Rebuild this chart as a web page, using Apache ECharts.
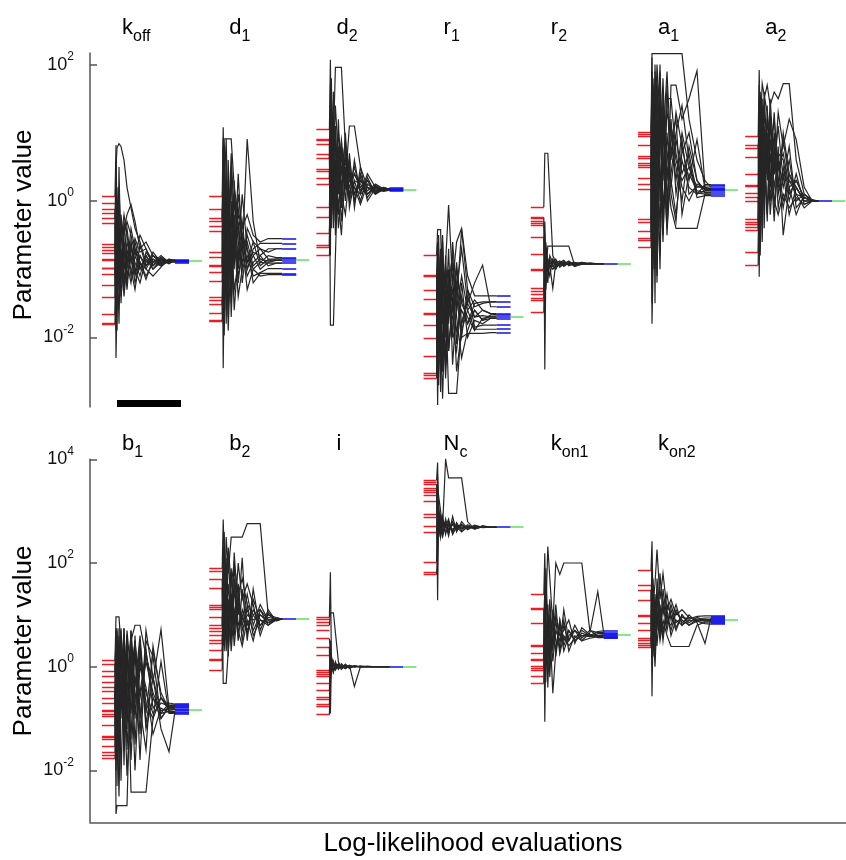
<!DOCTYPE html>
<html><head><meta charset="utf-8">
<script src="https://cdn.jsdelivr.net/npm/echarts@6.0.0/dist/echarts.min.js"></script>
<style>html,body{margin:0;padding:0;background:#fff}#c{width:846px;height:860px}</style>
</head><body><div id="c"></div>
<script>
// All parameter values are stored as log10(value).
// Evaluation positions (offsets from each run's start) at which run values are recorded
const STEP_X = [0,1,2,4,6,9,12,16,20,25,31,38,46,54,60];

const topTicks = [-2, 0, 2];
const bottomTicks = [-2, 0, 2, 4];

// ---- k_off ----
const koffInit = [0.07,-0.03,-0.12,-0.18,-0.25,-0.32,-0.63,-0.68,-0.72,-0.77,-0.86,-0.87,-0.98,-0.99,-1.08,-1.24,-1.41,-1.66,-1.79,-1.80];
const koffRuns = [
 [0.07,0.82,-0.3,0.2,-0.6,-0.2,-0.5,-0.9,-0.7,-1.0,-0.8,-0.95,-0.85,-0.9,-0.88],
 [-0.12,-2.3,-1.5,-0.9,-1.2,-0.6,-1.1,-0.8,-1.2,-0.9,-1.1,-0.9,-0.95,-0.87,-0.88],
 [-0.25,0.5,0.78,0.84,0.8,0.6,0.2,-0.1,-0.4,-0.6,-0.9,-0.8,-0.92,-0.86,-0.87],
 [-0.63,-1.7,-0.4,-1.3,-0.7,-1.4,-0.9,-0.6,-1.0,-1.2,-0.85,-1.0,-0.9,-0.88,-0.89],
 [-0.77,0.3,-0.9,-0.2,-1.5,-0.5,-0.3,-0.5,-0.8,-0.5,-0.7,-0.95,-0.82,-0.9,-0.88],
 [-0.98,-1.9,-0.5,-1.0,-0.3,-1.2,-0.7,-1.1,-0.6,-0.9,-1.15,-0.85,-0.95,-0.88,-0.88],
 [-1.24,-0.2,-1.6,-0.6,-1.1,-0.4,-0.2,-0.05,-0.3,-0.7,-0.6,-0.8,-0.87,-0.92,-0.87],
 [-1.41,-0.7,-1.2,0.1,-0.8,-1.3,-0.8,-1.0,-1.3,-0.8,-1.0,-1.1,-0.97,-0.85,-0.88],
 [-1.66,-1.0,-0.1,-0.7,-1.4,-0.9,-1.2,-0.7,-0.9,-1.1,-0.75,-0.9,-0.8,-0.9,-0.86],
 [-1.80,-0.5,-1.3,-0.8,-0.4,-1.0,-0.6,-0.85,-1.05,-0.65,-0.95,-0.75,-0.9,-0.87,-0.9],
 [-0.68,0.4,-1.0,-0.3,-0.9,-0.6,-1.0,-0.4,-0.7,-0.9,-1.0,-0.8,-0.9,-0.86,-0.87],
 [-0.87,-1.4,0.2,-1.1,-0.5,-0.8,-0.4,-0.9,-0.55,-0.75,-0.7,-0.9,-0.84,-0.89,-0.88],
 [-1.08,0.6,-0.6,-1.8,-0.2,-0.7,-1.3,-0.6,-1.1,-0.8,-0.95,-0.85,-0.93,-0.88,-0.89],
 [-0.32,-0.9,-1.9,0.5,-1.0,-0.3,-0.9,-1.2,-0.8,-1.0,-0.8,-1.0,-0.86,-0.9,-0.88]
];
const koffFinal = [-0.86,-0.87,-0.88,-0.89,-0.90];
const koffTrue = -0.88;

// ---- d_1 ----
const d1Init = [0.07,-0.12,-0.25,-0.30,-0.37,-0.44,-0.75,-0.83,-0.94,-0.95,-1.04,-1.18,-1.41,-1.45,-1.52,-1.64,-1.75,-1.76];
const d1Runs = [
 [0.07,1.08,0.2,0.91,-0.5,0.3,-0.8,0.1,-0.4,-0.2,-0.5,-0.6,-0.55,-0.55,-0.55],
 [-0.12,-2.45,-1.2,-0.3,-1.9,-0.6,-1.3,-0.9,-0.5,-1.0,-0.7,-0.62,-0.62,-0.62,-0.62],
 [-0.30,0.91,0.91,0.91,0.91,0.91,0.2,-0.2,-0.6,-0.9,-0.75,-0.8,-0.7,-0.7,-0.70],
 [-0.44,-1.4,0.4,-0.8,0.0,-1.5,-0.4,-1.1,-0.8,0.91,-0.3,-0.9,-0.8,-0.83,-0.83],
 [-0.75,0.6,-1.97,-0.4,-1.0,0.5,-0.9,-0.3,-1.2,-0.6,-0.95,-0.85,-0.88,-0.85,-0.85],
 [-0.94,-0.2,0.7,-1.6,0.3,-0.7,0.0,-0.6,-0.9,-0.5,-0.8,-1.0,-0.9,-0.87,-0.87],
 [-1.18,0.3,-1.0,0.6,-1.3,-0.2,-1.0,0.4,-0.7,-1.1,-0.9,-0.8,-0.95,-0.91,-0.91],
 [-1.45,-1.8,-0.6,-1.2,0.2,-1.7,-0.5,-1.4,-1.0,-0.8,-1.1,-1.05,-0.99,-0.99,-0.99],
 [-1.64,0.1,-1.4,0.0,-0.9,-0.4,-1.6,-0.8,0.1,-0.7,-1.2,-1.06,-1.06,-1.06,-1.06],
 [-1.76,-0.9,0.5,-1.8,-0.5,0.7,-0.3,-1.2,-0.6,-1.3,-1.0,-1.1,-1.08,-1.08,-1.08],
 [-0.25,0.8,-1.5,0.3,-0.7,-1.2,0.1,-0.4,-1.0,-0.4,-0.6,-0.7,-0.75,-0.7,-0.70],
 [-0.83,-1.2,0.9,-0.3,-1.7,0.0,-0.8,-0.1,-0.5,-0.9,-0.6,-0.95,-0.86,-0.87,-0.87],
 [-1.04,0.4,-0.4,-1.4,0.6,-1.0,-0.2,-0.9,-0.3,-1.0,-0.8,-0.7,-0.85,-0.85,-0.85],
 [-1.52,-0.5,0.2,-1.1,-0.2,-1.4,0.3,-1.0,-0.5,-0.7,-1.0,-0.9,-0.91,-0.91,-0.91]
];
const d1Final = [-0.55,-0.62,-0.70,-0.83,-0.85,-0.87,-0.91,-0.99,-1.06,-1.08];
const d1True = -0.86;

// ---- d_2 ----
const d2Init = [1.05,0.91,0.89,0.83,0.68,0.63,0.46,0.44,0.33,0.25,-0.09,-0.24,-0.47,-0.65,-0.68,-0.80];
const d2Runs = [
 [1.05,2.07,0.5,1.2,0.3,0.8,0.2,0.6,0.1,0.4,0.2,0.3,0.12,0.2,0.17],
 [0.91,-1.82,-1.82,-1.82,-1.82,0.7,0.4,0.9,0.3,0.1,0.35,0.05,0.22,0.15,0.16],
 [0.83,0.3,1.5,0.9,1.96,1.96,1.96,0.8,0.4,0.0,0.3,0.15,0.25,0.18,0.18],
 [0.63,1.4,0.0,0.7,-0.3,0.5,0.9,0.3,1.1,1.1,0.5,0.2,0.1,0.17,0.17],
 [0.44,-0.5,0.8,-0.2,0.6,-0.4,0.1,-0.2,0.4,0.2,-0.05,0.25,0.15,0.19,0.18],
 [0.25,1.0,-0.3,1.3,0.2,0.0,-0.5,0.5,0.0,0.6,0.1,0.4,0.2,0.16,0.17],
 [-0.09,0.6,1.1,0.2,0.9,0.3,0.7,0.0,0.7,-0.1,0.5,0.0,0.18,0.14,0.16],
 [-0.47,0.2,-0.4,0.4,0.0,1.2,0.0,1.0,-0.1,0.3,0.0,0.35,0.1,0.2,0.17],
 [-0.68,1.7,0.6,-0.1,1.0,-0.2,0.5,0.2,0.5,0.0,0.4,0.1,0.23,0.17,0.17],
 [-0.80,-0.3,0.2,0.9,-0.5,0.4,-0.3,0.4,0.2,0.5,0.15,0.3,0.13,0.16,0.18],
 [0.68,-0.8,1.3,0.1,0.8,0.5,-0.1,0.7,0.3,0.4,0.2,0.1,0.2,0.17,0.17],
 [0.33,1.2,0.4,1.6,-0.2,1.0,0.6,0.2,0.6,0.1,0.3,0.2,0.15,0.18,0.16],
 [-0.24,0.5,1.8,-0.4,1.1,0.1,0.8,0.3,0.0,0.3,0.25,0.1,0.2,0.16,0.17],
 [-0.65,0.9,-0.2,0.6,1.4,0.6,0.2,0.7,0.4,0.2,0.1,0.2,0.16,0.18,0.18]
];
const d2Final = [0.15,0.16,0.17,0.18,0.19];
const d2True = 0.17;

// ---- r_1 ----
const r1Init = [-0.80,-1.09,-1.11,-1.31,-1.44,-1.64,-1.66,-1.82,-2.01,-2.28,-2.53,-2.56,-2.60];
const r1Runs = [
 [-0.80,-0.42,-0.42,-0.42,-1.5,-0.9,-0.06,-1.2,-0.6,-0.4,-1.1,-1.39,-1.39,-1.39,-1.39],
 [-1.09,-2.99,-2.0,-1.3,-2.5,-1.6,-2.2,-1.4,-1.9,-1.6,-1.8,-1.5,-1.48,-1.48,-1.48],
 [-1.11,-0.6,-1.6,-0.9,-0.5,-2.0,-1.0,-1.6,-1.3,-0.7,-1.5,-1.2,-0.94,-1.55,-1.55],
 [-1.31,-2.2,-0.8,-2.6,-1.2,-1.4,-2.82,-2.82,-2.82,-1.8,-1.4,-1.7,-1.6,-1.65,-1.65],
 [-1.44,-1.0,-2.4,-0.7,-1.8,-1.1,-1.5,-0.9,-1.7,-2.3,-1.9,-1.6,-1.75,-1.67,-1.67],
 [-1.64,-2.6,-1.2,-1.9,-0.6,-2.4,-1.3,-2.0,-1.0,-1.5,-1.7,-1.9,-1.72,-1.70,-1.70],
 [-1.82,-0.9,-1.9,-1.5,-2.2,-0.8,-1.8,-1.1,-2.1,-1.2,-2.0,-1.75,-1.8,-1.72,-1.72],
 [-2.01,-1.4,-0.5,-2.1,-1.0,-1.7,-0.7,-2.4,-1.5,-0.42,-1.3,-1.85,-1.82,-1.82,-1.82],
 [-2.28,-1.8,-2.7,-1.1,-1.6,-2.6,-1.6,-1.3,-2.5,-1.9,-1.6,-1.88,-1.88,-1.88,-1.88],
 [-2.60,-2.3,-1.4,-2.0,-2.9,-1.3,-2.1,-1.7,-1.2,-2.0,-1.94,-1.94,-1.94,-1.93,-1.93],
 [-1.31,-0.7,-2.5,-1.4,-0.9,-1.9,-1.2,-0.8,-1.6,-1.1,-1.6,-1.45,-1.6,-1.65,-1.67],
 [-1.66,-2.1,-0.7,-1.7,-2.5,-1.0,-2.2,-1.5,-0.9,-1.8,-1.5,-1.7,-1.68,-1.70,-1.70],
 [-2.53,-1.2,-2.2,-0.8,-1.5,-2.3,-1.1,-1.9,-2.2,-1.4,-1.8,-1.6,-1.75,-1.72,-1.72],
 [-2.56,-1.6,-1.0,-2.8,-1.3,-1.0,-1.7,-0.6,-1.4,-2.0,-1.3,-1.55,-1.5,-1.48,-1.48]
];
const r1Final = [-1.39,-1.48,-1.55,-1.65,-1.67,-1.70,-1.72,-1.82,-1.88,-1.93];
const r1True = -1.70;

// ---- r_2 ----
const r2Init = [-0.09,-0.24,-0.26,-0.30,-0.33,-0.36,-0.53,-0.78,-1.00,-1.02,-1.28,-1.33,-1.36,-1.43,-1.46,-1.63];
const r2Runs = [
 [-0.09,0.70,0.70,0.70,0.70,-0.8,-0.9,-0.95,-0.9,-0.93,-0.91,-0.92,-0.92,-0.92,-0.92],
 [-0.24,-2.47,-1.0,-0.85,-0.95,-1.28,-0.9,-0.88,-0.95,-0.9,-0.93,-0.9,-0.92,-0.92,-0.92],
 [-0.33,-0.5,-1.1,-0.66,-0.66,-0.66,-0.66,-0.66,-0.66,-0.66,-0.95,-0.93,-0.91,-0.92,-0.92],
 [-0.53,-1.2,-0.7,-1.0,-0.85,-0.95,-1.0,-0.9,-0.87,-0.95,-0.92,-0.91,-0.93,-0.92,-0.92],
 [-0.78,-0.3,-0.9,-1.2,-0.8,-0.9,-0.85,-0.97,-0.92,-0.88,-0.94,-0.92,-0.91,-0.92,-0.92],
 [-1.02,-1.5,-0.6,-0.95,-1.1,-0.85,-0.93,-0.9,-0.96,-0.91,-0.9,-0.93,-0.92,-0.92,-0.92],
 [-1.33,-0.8,-1.3,-0.9,-0.88,-1.0,-0.95,-0.92,-0.89,-0.93,-0.92,-0.9,-0.92,-0.92,-0.92],
 [-1.63,-1.0,-0.75,-1.05,-0.92,-0.87,-0.98,-0.9,-0.93,-0.9,-0.96,-0.92,-0.92,-0.92,-0.92],
 [-1.00,-0.6,-1.1,-0.85,-0.97,-0.9,-0.94,-0.91,-0.93,-0.92,-0.91,-0.92,-0.92,-0.92,-0.92],
 [-1.43,-0.9,-0.8,-1.0,-0.9,-0.96,-0.89,-0.93,-0.92,-0.91,-0.93,-0.92,-0.92,-0.92,-0.92]
];
const r2Final = [-0.92];
const r2True = -0.92;

// ---- a_1 ----
const a1Init = [1.01,0.98,0.95,0.82,0.65,0.62,0.55,0.52,0.49,0.34,0.24,0.17,-0.27,-0.31,-0.45,-0.55,-0.58,-0.68];
const a1Runs = [
 [1.01,2.16,2.16,2.16,2.16,2.16,2.16,2.16,2.16,2.16,2.16,1.2,0.6,0.3,0.2],
 [0.95,-1.80,-1.80,0.5,-1.2,1.6,-0.5,1.0,0.2,0.9,0.4,0.7,0.1,0.15,0.16],
 [0.82,1.9,0.0,1.5,0.3,-0.8,1.4,-0.3,1.7,1.7,1.2,1.5,1.91,0.2,0.18],
 [0.62,-0.6,1.7,-1.5,1.8,0.2,0.9,1.9,0.6,1.3,0.8,0.3,0.9,0.17,0.17],
 [0.52,1.2,-1.0,1.0,2.0,1.2,-0.2,0.5,-0.1,-0.40,-0.40,-0.40,-0.40,0.1,0.10],
 [0.34,2.1,0.8,-0.7,0.6,2.0,0.4,1.3,1.0,0.3,1.0,0.5,0.2,0.22,0.22],
 [0.17,-1.3,1.3,0.2,-0.3,0.7,1.8,0.0,0.8,0.5,0.0,0.8,0.3,0.12,0.13],
 [-0.27,0.6,-0.5,1.9,0.9,-0.4,1.0,0.7,0.3,-0.2,0.6,0.2,0.1,0.24,0.24],
 [-0.45,1.5,0.3,-1.0,1.2,0.5,-0.6,1.5,1.5,0.7,0.2,0.0,0.25,0.19,0.19],
 [-0.68,0.0,1.8,0.9,-0.8,1.5,0.6,-0.4,0.4,1.0,1.4,0.6,0.05,0.08,0.08],
 [0.98,1.4,-0.3,2.0,0.6,-1.0,1.6,0.3,1.2,0.1,0.7,1.0,0.3,0.16,0.16],
 [0.55,-1.5,1.0,0.4,1.7,0.0,1.1,-0.5,0.9,1.2,-0.2,0.4,0.15,0.13,0.13],
 [0.24,1.9,-0.2,1.2,-1.1,1.3,0.3,1.7,0.1,-0.3,0.9,0.1,0.22,0.18,0.18],
 [-0.55,0.9,1.6,-0.8,0.5,1.9,-0.1,0.6,1.1,0.6,0.3,0.5,0.12,0.10,0.10]
];
const a1Final = [0.08,0.10,0.13,0.16,0.17,0.18,0.19,0.22,0.24];
const a1True = 0.17;

// ---- a_2 ----
const a2Init = [0.95,0.82,0.78,0.64,0.39,0.23,0.21,0.11,0.06,0.00,-0.27,-0.31,-0.34,-0.38,-0.43,-0.75,-0.94];
const a2Runs = [
 [0.95,1.92,1.0,1.72,1.72,1.3,0.8,1.2,0.5,0.7,0.2,0.3,0.05,0.0,0.0],
 [0.82,-1.11,0.4,-0.3,0.6,-0.1,0.3,0.0,-0.2,0.1,-0.1,0.05,-0.05,0.0,0.0],
 [0.64,1.2,1.6,1.0,1.5,1.7,1.4,1.6,1.5,1.72,1.72,0.6,0.1,0.02,0.0],
 [0.39,0.5,-0.8,0.7,0.1,0.9,-0.2,0.6,0.3,-0.1,0.4,0.1,-0.1,0.0,0.0],
 [0.21,1.5,0.8,1.4,0.2,0.6,1.1,0.4,1.3,0.8,1.2,0.9,0.2,0.0,0.0],
 [0.06,-0.5,0.9,0.2,1.1,0.3,0.7,-0.3,0.8,-0.5,0.2,-0.2,0.1,0.0,0.0],
 [-0.27,0.8,0.0,1.3,-0.4,1.4,0.2,1.0,0.1,0.5,0.0,0.4,-0.05,0.0,0.0],
 [-0.38,1.7,0.6,-0.6,0.8,-0.3,0.9,0.2,0.6,0.2,0.6,0.0,0.1,0.0,0.0],
 [-0.75,0.2,1.3,0.5,0.4,1.0,0.0,0.8,-0.1,0.4,-0.2,0.2,0.0,0.0,0.0],
 [-0.94,1.0,-0.2,0.9,1.3,0.4,1.5,0.5,1.1,0.3,0.8,-0.1,0.05,0.0,0.0],
 [0.78,1.4,0.3,1.1,0.5,1.2,0.6,0.9,0.2,0.9,0.3,0.2,0.0,0.0,0.0],
 [0.23,-0.3,1.5,0.4,0.9,-0.2,1.2,0.4,0.5,0.0,0.3,0.1,0.05,0.0,0.0],
 [-0.31,1.1,0.2,-0.2,1.6,0.6,0.3,1.3,0.2,1.0,0.4,0.2,0.0,0.0,0.0],
 [-0.43,0.6,1.0,1.5,0.0,0.8,1.3,-0.1,0.7,0.6,0.1,0.3,0.05,0.0,0.0]
];
const a2Final = [0.0];
const a2True = 0.0;

// ---- b_1 ----
const b1Init = [0.12,0.04,-0.08,-0.18,-0.30,-0.40,-0.48,-0.60,-0.70,-0.84,-0.86,-0.92,-0.96,-1.12,-1.34,-1.36,-1.40,-1.54,-1.64,-1.70,-1.76];
const b1Runs = [
 [0.12,0.96,0.96,0.96,0.96,-0.5,0.7,-0.2,0.5,-0.6,0.1,-0.5,-0.9,-0.7,-0.72],
 [0.04,-2.84,-2.68,-2.68,-2.68,-2.68,-2.68,0.2,-1.0,0.4,-1.2,-0.6,-1.0,-0.78,-0.76],
 [-0.18,0.74,-1.5,0.74,-0.8,0.74,-1.2,0.5,0.8,0.8,0.2,-0.3,0.72,-0.8,-0.80],
 [-0.40,-1.8,0.5,-2.0,0.3,-1.5,0.6,-2.42,-2.42,-2.42,-2.42,-1.0,-0.6,-0.84,-0.82],
 [-0.60,0.3,-0.6,0.6,-2.2,0.2,-1.0,0.7,-0.4,0.6,-0.9,0.3,-0.5,-0.83,-0.83],
 [-0.84,-1.0,0.7,-0.4,0.6,-1.9,0.3,-1.4,0.6,-1.3,0.7,-0.2,-1.2,-1.64,-0.86],
 [-0.96,0.6,-2.3,0.2,-1.0,0.5,-1.6,0.0,-2.0,0.1,-0.4,-1.3,-0.8,-0.88,-0.88],
 [-1.34,-0.4,0.4,-1.2,0.74,-0.8,0.5,-0.9,0.3,-1.8,0.5,0.2,-1.0,-0.75,-0.74],
 [-1.54,0.5,-0.9,-2.5,-0.3,0.6,-0.5,0.6,-1.5,0.3,-0.7,-1.0,0.1,-0.9,-0.90],
 [-1.76,-1.4,0.2,-0.6,0.5,-0.3,-2.1,-0.6,0.4,-0.8,-1.6,0.4,-0.6,-0.79,-0.78],
 [-0.08,0.6,-1.2,0.2,-0.3,0.74,-0.8,0.3,-0.9,0.0,-0.5,-0.9,-0.7,-0.76,-0.76],
 [-0.48,-2.0,0.5,-0.8,0.7,-1.3,0.2,-0.4,0.5,-1.0,0.3,-0.6,-0.85,-0.8,-0.80],
 [-1.12,0.7,-1.8,0.4,-0.5,0.3,-0.8,0.7,-0.7,0.5,-1.1,-0.2,-0.9,-0.86,-0.86],
 [-1.64,-0.6,0.74,-1.5,0.1,-0.9,0.6,-1.8,-0.2,-0.5,0.3,-0.8,-0.6,-0.74,-0.74]
];
const b1Final = [-0.72,-0.74,-0.76,-0.78,-0.80,-0.82,-0.83,-0.86,-0.88,-0.90];
const b1True = -0.82;

// ---- b_2 ----
const b2Init = [1.90,1.84,1.68,1.52,1.18,1.14,1.10,0.96,0.80,0.74,0.68,0.60,0.52,0.46,0.32,0.14,0.12,-0.06];
const b2Runs = [
 [1.90,2.84,2.2,1.5,2.3,1.6,2.0,1.4,1.7,1.2,1.0,0.8,1.0,0.9,0.92],
 [1.68,-0.32,-0.32,-0.32,-0.32,1.2,0.6,1.4,0.8,1.1,0.7,1.0,0.85,0.93,0.92],
 [1.14,2.3,1.0,2.5,1.8,2.5,2.5,2.5,2.5,2.76,2.76,2.76,1.0,0.95,0.92],
 [0.96,0.4,1.6,0.6,1.3,0.3,1.1,0.7,0.4,0.9,0.5,1.1,0.8,0.9,0.92],
 [0.74,1.8,0.8,2.1,0.5,1.9,0.8,2.0,1.3,1.6,1.2,0.6,1.05,0.9,0.92],
 [0.52,1.2,2.6,0.9,1.6,0.8,1.5,0.5,1.5,0.6,1.3,0.9,0.8,0.94,0.92],
 [0.32,0.9,0.3,1.2,0.2,1.4,0.4,1.2,0.9,1.4,0.8,1.2,0.9,0.91,0.92],
 [-0.06,1.5,1.2,0.3,1.0,0.6,2.2,1.0,2.1,0.5,1.5,0.7,1.1,0.88,0.92],
 [1.52,0.8,2.3,1.1,0.7,1.8,0.9,1.6,0.7,1.0,0.9,1.0,0.9,0.92,0.92],
 [0.80,2.1,0.6,1.7,1.2,0.5,1.7,0.6,1.1,0.8,1.1,0.8,0.95,0.92,0.92],
 [0.46,1.0,1.9,0.5,2.2,1.0,0.7,1.3,0.5,1.2,0.6,0.9,0.85,0.9,0.92],
 [0.12,1.6,0.4,1.4,0.8,1.3,1.9,0.8,1.0,0.7,1.0,1.1,0.9,0.93,0.92]
];
const b2Final = [0.92];
const b2True = 0.92;

// ---- i ----
const iInit = [0.96,0.92,0.86,0.80,0.70,0.54,0.38,0.22,-0.06,-0.10,-0.14,-0.18,-0.32,-0.46,-0.58,-0.62,-0.72,-0.76,-0.92];
const iRuns = [
 [0.96,1.82,0.2,0.05,-0.05,0.02,0.0,-0.03,0.02,0.0,0.01,0.0,0.0,0.0,0.0],
 [0.80,1.04,1.04,1.04,1.04,0.1,-0.05,0.03,-0.02,0.01,0.0,0.0,0.0,0.0,0.0],
 [0.38,-0.9,0.1,-0.1,0.05,-0.04,0.06,-0.02,0.03,-0.38,0.0,0.01,0.0,0.0,0.0],
 [-0.10,0.5,-0.15,0.1,-0.06,0.04,-0.03,0.05,-0.02,0.02,-0.01,0.0,0.0,0.0,0.0],
 [-0.46,0.3,0.08,-0.1,0.1,-0.05,0.02,-0.04,0.02,-0.01,0.01,0.0,0.0,0.0,0.0],
 [-0.92,-0.2,0.15,-0.05,0.0,0.06,-0.04,0.02,-0.03,0.01,0.0,0.0,0.0,0.0,0.0],
 [0.54,0.3,-0.1,0.08,-0.05,0.03,-0.02,0.02,0.0,0.01,0.0,0.0,0.0,0.0,0.0],
 [-0.72,-0.3,0.1,-0.08,0.04,-0.02,0.03,-0.01,0.02,0.0,0.0,0.0,0.0,0.0,0.0]
];
const iFinal = [0.0];
const iTrue = 0.0;

// ---- N_c ----
const ncInit = [3.60,3.56,3.52,3.44,3.40,3.36,3.30,3.20,2.94,2.88,2.70,2.60,2.02,1.82,1.78];
const ncRuns = [
 [3.60,3.94,2.6,2.9,2.7,2.8,2.65,2.75,2.7,2.72,2.68,2.7,2.69,2.69,2.69],
 [3.44,1.28,2.9,2.5,2.8,2.6,2.75,2.62,2.74,2.66,2.71,2.68,2.7,2.69,2.69],
 [3.30,3.5,3.3,3.0,2.7,4.0,3.64,3.64,3.64,3.64,2.8,2.65,2.72,2.69,2.69],
 [2.94,3.2,2.5,2.8,2.55,2.85,2.6,2.8,2.65,2.75,2.64,2.72,2.68,2.69,2.69],
 [2.70,2.4,3.0,2.6,2.9,2.55,2.8,2.58,2.78,2.62,2.74,2.67,2.7,2.69,2.69],
 [2.02,3.7,2.8,2.65,2.5,2.75,2.52,2.9,2.6,2.8,2.66,2.73,2.69,2.69,2.69],
 [1.78,2.2,2.7,2.9,2.6,2.7,2.85,2.55,2.7,2.6,2.7,2.66,2.7,2.69,2.69],
 [3.52,2.7,3.2,2.6,2.8,2.7,2.6,2.75,2.62,2.72,2.7,2.67,2.69,2.69,2.69],
 [2.60,3.0,2.5,2.75,2.6,2.8,2.7,2.65,2.72,2.68,2.7,2.69,2.7,2.69,2.69]
];
const ncFinal = [2.69];
const ncTrue = 2.69;

// ---- k_on1 ----
const kon1Init = [1.39,1.13,1.10,0.83,0.42,0.39,0.26,0.14,0.12,0.00,-0.03,-0.06,-0.18,-0.32];
const kon1Runs = [
 [1.39,2.19,1.0,2.32,2.32,0.8,2.0,1.78,2.0,2.0,2.0,2.0,0.7,0.6,0.62],
 [1.10,-1.06,0.5,0.0,0.8,-0.51,0.3,0.9,0.4,0.7,0.5,0.65,0.58,0.6,0.60],
 [0.83,1.5,0.4,1.2,0.2,1.0,0.5,0.4,1.1,0.5,0.8,0.55,0.7,0.66,0.66],
 [0.39,0.2,1.6,0.6,1.3,0.3,1.0,0.6,0.7,0.9,0.45,0.75,0.62,0.56,0.56],
 [0.14,1.0,-0.3,0.9,-0.2,1.1,0.2,0.8,0.3,0.6,0.7,0.5,0.65,1.45,0.64],
 [-0.03,0.6,1.2,-0.4,0.7,0.5,0.9,0.25,0.6,0.4,0.55,0.7,0.6,0.68,0.69],
 [-0.32,1.8,0.1,0.5,1.0,0.1,0.7,0.5,0.9,0.3,0.6,0.5,0.55,0.58,0.58],
 [0.42,1.3,0.6,0.2,1.0,0.7,0.3,0.9,0.5,0.7,0.5,0.6,0.62,0.6,0.60],
 [0.12,0.5,1.9,0.8,0.1,0.6,1.2,0.3,0.8,0.5,0.7,0.6,0.58,0.64,0.64]
];
const kon1Final = [0.55,0.56,0.58,0.60,0.62,0.64,0.66,0.69];
const kon1True = 0.61;

// ---- k_on2 ----
const kon2Init = [1.87,1.57,1.47,1.29,1.00,0.97,0.83,0.71,0.55,0.52,0.46,0.42,0.37];
const kon2Runs = [
 [1.87,2.42,1.2,1.6,2.26,1.3,1.8,1.1,1.3,1.0,1.1,0.95,0.9,0.92,0.90],
 [1.47,-0.57,0.8,0.0,1.0,0.5,0.9,0.6,0.39,0.39,0.39,0.39,0.8,0.86,0.86],
 [1.29,1.9,0.6,1.4,0.7,1.8,1.0,1.4,0.9,1.2,0.8,1.0,0.85,0.45,0.94],
 [0.97,0.3,1.5,0.5,1.3,0.8,1.2,0.7,1.1,0.75,1.0,0.85,0.95,0.9,0.90],
 [0.71,1.3,0.2,1.1,0.4,1.2,0.6,1.0,0.7,1.05,0.9,0.8,0.88,0.83,0.82],
 [0.52,1.0,1.7,0.8,1.5,0.6,1.3,0.8,1.2,0.85,0.95,0.92,0.97,0.98,0.98],
 [0.37,2.0,0.9,0.2,0.9,1.0,0.7,1.1,0.6,0.9,0.8,0.9,0.88,0.9,0.90],
 [1.00,1.6,0.5,1.2,1.1,0.6,1.5,0.9,0.8,1.1,0.85,0.95,0.9,0.88,0.88],
 [0.46,0.8,1.4,0.4,1.7,1.1,0.5,1.2,1.0,0.7,1.0,0.8,0.92,0.94,0.94]
];
const kon2Final = [0.82,0.84,0.86,0.88,0.90,0.92,0.94,0.96,0.98];
const kon2True = 0.90;

// scale bar (evaluation units, log10 value)
const scaleBarX = [27, 91];
const scaleBarY = -2.96;

// ---------------- layout & styles ----------------
const FONT = '"Liberation Sans", Arial, Helvetica, sans-serif';
const GRID_LEFT = 90, PLOT_W = 756;
const GROUP_X0 = 12, GROUP_DX = 107.2;
const RED_W = 13, TRACE_W = 60, BLUE_W = 14, GREEN_W = 13;
const RED = '#ec1c24', BLUE = '#1010e8', GREEN = '#5fe05f', TRACE = '#262626', AXIS = '#555555';

const params = [
 {panel:0, slot:0, main:'k', sub:'off', init:koffInit, runs:koffRuns, fin:koffFinal, truth:koffTrue},
 {panel:0, slot:1, main:'d', sub:'1', init:d1Init, runs:d1Runs, fin:d1Final, truth:d1True},
 {panel:0, slot:2, main:'d', sub:'2', init:d2Init, runs:d2Runs, fin:d2Final, truth:d2True},
 {panel:0, slot:3, main:'r', sub:'1', init:r1Init, runs:r1Runs, fin:r1Final, truth:r1True},
 {panel:0, slot:4, main:'r', sub:'2', init:r2Init, runs:r2Runs, fin:r2Final, truth:r2True},
 {panel:0, slot:5, main:'a', sub:'1', init:a1Init, runs:a1Runs, fin:a1Final, truth:a1True},
 {panel:0, slot:6, main:'a', sub:'2', init:a2Init, runs:a2Runs, fin:a2Final, truth:a2True},
 {panel:1, slot:0, main:'b', sub:'1', init:b1Init, runs:b1Runs, fin:b1Final, truth:b1True},
 {panel:1, slot:1, main:'b', sub:'2', init:b2Init, runs:b2Runs, fin:b2Final, truth:b2True},
 {panel:1, slot:2, main:'i', sub:'', init:iInit, runs:iRuns, fin:iFinal, truth:iTrue},
 {panel:1, slot:3, main:'N', sub:'c', init:ncInit, runs:ncRuns, fin:ncFinal, truth:ncTrue},
 {panel:1, slot:4, main:'k', sub:'on1', init:kon1Init, runs:kon1Runs, fin:kon1Final, truth:kon1True},
 {panel:1, slot:5, main:'k', sub:'on2', init:kon2Init, runs:kon2Runs, fin:kon2Final, truth:kon2True}
];

function segSeries(panel, color, width, segs) {
  return {type:'lines', coordinateSystem:'cartesian2d', xAxisIndex:panel, yAxisIndex:panel,
    silent:true, animation:false, polyline:false,
    lineStyle:{color:color, width:width, opacity:1, curveness:0},
    data: segs.map(s => ({coords:s}))};
}

const series = [];
params.forEach(p => {
  const base = GROUP_X0 + GROUP_DX * p.slot;
  const xStart = base + RED_W;
  const xEnd = xStart + TRACE_W;
  series.push(segSeries(p.panel, RED, 1.3, p.init.map(v => [[base, v], [xStart, v]])));
  p.runs.forEach(r => {
    series.push({type:'line', xAxisIndex:p.panel, yAxisIndex:p.panel,
      showSymbol:false, symbol:'none', silent:true, animation:false,
      lineStyle:{color:TRACE, width:1.2, join:'miter'},
      data: r.map((v, i) => [xStart + STEP_X[i], v])});
  });
  series.push(segSeries(p.panel, BLUE, 1.6, p.fin.map(v => [[xEnd, v], [xEnd + BLUE_W, v]])));
  series.push(segSeries(p.panel, GREEN, 1.5, [[[xEnd + BLUE_W, p.truth], [xEnd + BLUE_W + GREEN_W, p.truth]]]));
});
series.push(segSeries(0, '#000000', 7, [[[scaleBarX[0], scaleBarY], [scaleBarX[1], scaleBarY]]]));

const tickRich = {
  b:{fontSize:18, lineHeight:28, fontFamily:FONT, color:'#111', verticalAlign:'middle'},
  s:{fontSize:12, lineHeight:12, fontFamily:FONT, color:'#111', verticalAlign:'top'}
};
function yAxisFor(grid, min, max, ticks) {
  return {gridIndex:grid, type:'value', min:min, max:max,
    axisLine:{show:true, onZero:false, lineStyle:{color:AXIS, width:1.5}},
    axisTick:{show:true, inside:true, length:7, customValues:ticks, lineStyle:{color:AXIS, width:1.5}},
    axisLabel:{show:true, customValues:ticks, margin:16, formatter: v => '{b|10}{s|' + v + '}', rich:tickRich},
    splitLine:{show:false}};
}

const labelRich = {
  m:{fontSize:22, lineHeight:22, fontFamily:FONT, fill:'#000', verticalAlign:'top'},
  s:{fontSize:16, lineHeight:16, fontFamily:FONT, fill:'#000', verticalAlign:'top', padding:[12,0,0,0]}
};
const labelTop = [17, 433];
const graphics = params.map(p => ({
  type:'text', x: GRID_LEFT + GROUP_X0 + GROUP_DX * p.slot + 20, y: labelTop[p.panel], silent:true,
  style:{text: '{m|' + p.main + '}' + (p.sub ? '{s|' + p.sub + '}' : ''), rich:labelRich, align:'left', verticalAlign:'top', fill:'#000'}
}));
graphics.push({type:'text', x:24, y:225, rotation:Math.PI/2, silent:true,
  style:{text:'Parameter value', font:'26px ' + FONT, fill:'#000', align:'center', verticalAlign:'middle'}});
graphics.push({type:'text', x:24, y:641, rotation:Math.PI/2, silent:true,
  style:{text:'Parameter value', font:'26px ' + FONT, fill:'#000', align:'center', verticalAlign:'middle'}});
graphics.push({type:'text', x:473, y:844, silent:true,
  style:{text:'Log-likelihood evaluations', font:'26px ' + FONT, fill:'#000', align:'center', verticalAlign:'middle'}});

const option = {
  animation:false,
  backgroundColor:'#ffffff',
  grid:[
    {left:GRID_LEFT, top:53, width:PLOT_W, height:354},
    {left:GRID_LEFT, top:459.3, width:PLOT_W, height:363}
  ],
  xAxis:[
    {gridIndex:0, type:'value', min:0, max:PLOT_W, show:false},
    {gridIndex:1, type:'value', min:0, max:PLOT_W,
      axisLine:{show:true, onZero:false, lineStyle:{color:AXIS, width:1.5}},
      axisTick:{show:false}, axisLabel:{show:false}, splitLine:{show:false}}
  ],
  yAxis:[
    yAxisFor(0, -3.02, 2.17, topTicks),
    yAxisFor(1, -3.0, 4.0, bottomTicks)
  ],
  series: series,
  graphic: graphics
};

const chart = echarts.init(document.getElementById('c'), null, {renderer:'canvas'});
chart.setOption(option);
</script>
</body></html>
